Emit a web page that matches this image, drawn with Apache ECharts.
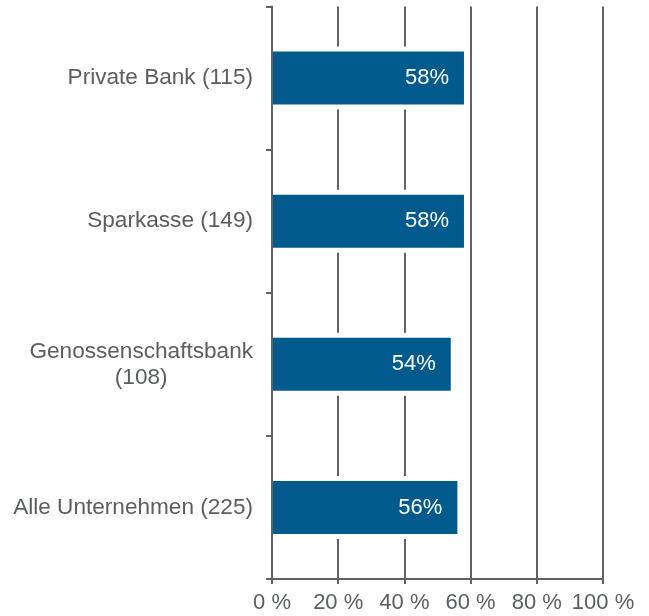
<!DOCTYPE html>
<html>
<head>
<meta charset="utf-8">
<script src="https://cdn.jsdelivr.net/npm/echarts@6/dist/echarts.min.js"></script>
<style>
  html, body { margin: 0; padding: 0; background: #fff; }
  #chart { width: 649px; height: 616px; }
</style>
</head>
<body>
<div id="chart"></div>
<script>
// Share of companies per bank group (sample size in brackets)
const categories = ['Private Bank (115)', 'Sparkasse (149)', 'Genossenschaftsbank\n(108)', 'Alle Unternehmen (225)'];
const shares = [58, 58, 54, 56];
const tickLabels = ['0 %', '20 %', '40 %', '60 %', '80 %', '100 %'];

const gray = '#5e6166';
const textGray = '#5a5d61';
const barBlue = '#005a8c';
const font = 'Liberation Sans';
const fontSize = 22;
const catFontSize = 22.6;

const chart = echarts.init(document.getElementById('chart'), null, { renderer: 'canvas' });

chart.setOption({
  animation: false,
  grid: { left: 272, right: 46, top: 6.5, bottom: 37, containLabel: false },
  xAxis: {
    type: 'value',
    min: 0,
    max: 100,
    interval: 20,
    axisLine: { show: true, lineStyle: { color: gray, width: 2 } },
    axisTick: { show: true, length: 5, lineStyle: { color: gray, width: 2 } },
    splitLine: { show: true, lineStyle: { color: gray, width: 2 } },
    axisLabel: {
      margin: 13,
      color: textGray,
      fontFamily: font,
      fontSize: fontSize,
      formatter: (v) => tickLabels[Math.round(v / 20)]
    }
  },
  yAxis: [
    {
      type: 'category',
      inverse: true,
      data: categories,
      z: 3,
      axisLine: { show: true, lineStyle: { color: gray, width: 2 } },
      axisTick: { show: true, length: 6, lineStyle: { color: gray, width: 2 } },
      splitLine: { show: false },
      axisLabel: {
        margin: 19,
        color: textGray,
        fontFamily: font,
        fontSize: catFontSize,
        lineHeight: 26,
        formatter: (v) => {
          const parts = v.split('\n');
          if (parts.length === 1) return v;
          return '{a|' + parts[0] + '}\n{c|' + parts[1] + '}';
        },
        rich: {
          a: { fontFamily: font, fontSize: catFontSize, color: textGray, lineHeight: 26 },
          c: { fontFamily: font, fontSize: catFontSize, color: textGray, lineHeight: 26, align: 'center' }
        }
      }
    },
    {
      // hidden twin axis carrying the white outline bars
      type: 'category',
      inverse: true,
      data: categories,
      position: 'left',
      show: false
    }
  ],
  series: [
    {
      // white outline that keeps the grid lines clear of each bar
      type: 'bar',
      yAxisIndex: 1,
      data: shares,
      barWidth: 63,
      silent: true,
      z: 1,
      itemStyle: { color: '#ffffff' }
    },
    {
      type: 'bar',
      yAxisIndex: 0,
      data: shares,
      barWidth: 53,
      z: 2,
      itemStyle: { color: barBlue },
      label: {
        show: true,
        position: 'insideRight',
        distance: 15,
        color: '#ffffff',
        fontFamily: font,
        fontSize: fontSize,
        formatter: (p) => p.value + '%'
      }
    }
  ]
});
</script>
</body>
</html>
